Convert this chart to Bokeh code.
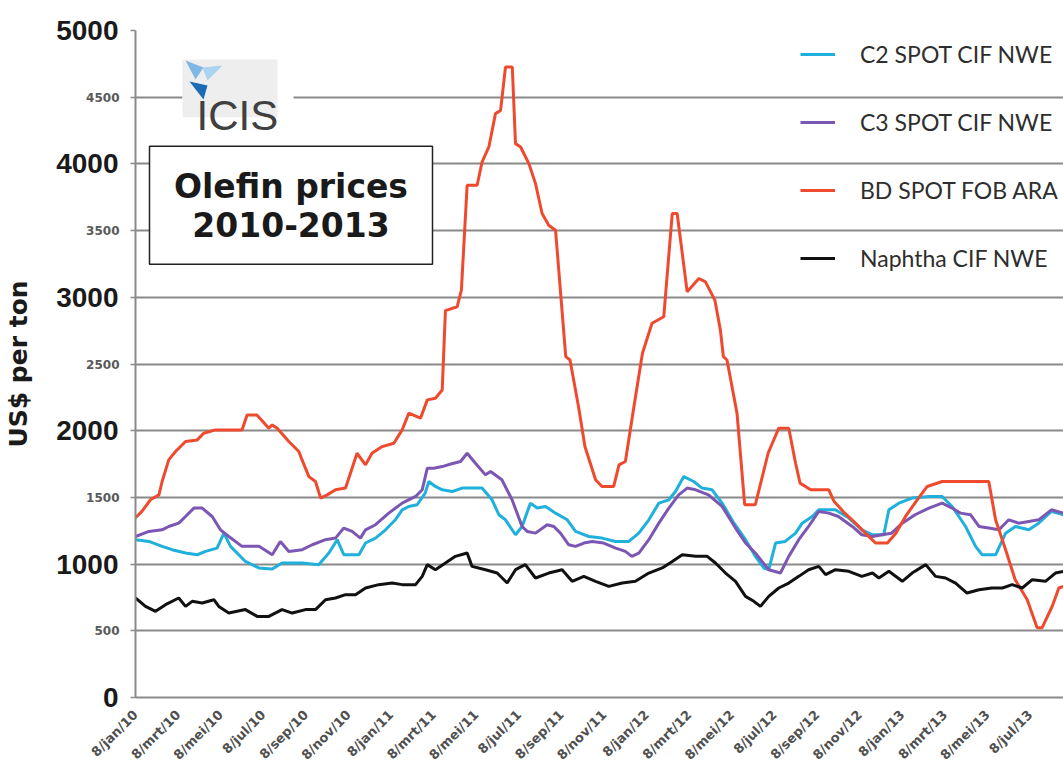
import math
from bokeh.plotting import figure
from bokeh.models import Range1d, FixedTicker, LinearAxis, Legend, LegendItem
from bokeh.core.properties import value
from bokeh.embed import file_html
from bokeh.resources import INLINE

# ---------------- data ----------------
tick_months = [0, 2, 4, 6, 8, 10, 12, 14, 16, 18, 20, 22, 24, 26, 28, 30, 32, 34, 36, 38, 40, 42]
tick_labels = ["8/jan/10", "8/mrt/10", "8/mei/10", "8/jul/10", "8/sep/10", "8/nov/10",
               "8/jan/11", "8/mrt/11", "8/mei/11", "8/jul/11", "8/sep/11", "8/nov/11",
               "8/jan/12", "8/mrt/12", "8/mei/12", "8/jul/12", "8/sep/12", "8/nov/12",
               "8/jan/13", "8/mrt/13", "8/mei/13", "8/jul/13"]
y_major_ticks = [0, 1000, 2000, 3000, 4000, 5000]
y_minor_ticks = [500, 1500, 2500, 3500, 4500]
series_names = ["C2 SPOT CIF NWE", "C3 SPOT CIF NWE", "BD SPOT FOB ARA", "Naphtha CIF NWE"]

c2_month = [0, 0.63, 1.25, 1.72, 2.35, 2.9, 3.29, 3.83, 4.15, 4.46, 5.16, 5.79, 6.42, 6.88, 7.83, 8.6,
            9.08, 9.47, 9.78, 10.49, 10.8, 11.27, 11.74, 12.2, 12.52, 12.83, 13.22, 13.6, 13.77, 14.08,
            14.4, 14.87, 15.34, 16.27, 16.74, 17.06, 17.37, 17.84, 18.15, 18.54, 18.86, 19.25, 19.72,
            20.27, 20.66, 21.28, 21.9, 22.54, 23.16, 23.63, 24.1, 24.57, 25.04, 25.35, 25.74, 26.21,
            26.6, 27.07, 27.54, 28.1, 28.64, 29.1, 29.5, 29.73, 30.05, 30.5, 30.99, 31.3, 31.77, 32.08,
            32.86, 33.49, 34.1, 34.6, 35.13, 35.37, 35.84, 36.46, 37.25, 37.87, 38.34, 38.97, 39.44,
            39.75, 40.38, 40.85, 41.31, 41.94, 42.4, 43.0, 43.57]
c2_price = [1183, 1170, 1133, 1108, 1083, 1070, 1095, 1120, 1232, 1133, 1020, 971, 963, 1008, 1008, 996,
            1083, 1183, 1070, 1070, 1158, 1195, 1257, 1332, 1407, 1432, 1445, 1532, 1619, 1582,
            1557, 1544, 1570, 1570, 1482, 1370, 1332, 1220, 1282, 1457, 1420, 1432, 1382,
            1332, 1245, 1207, 1195, 1170, 1170, 1232, 1332, 1457, 1482, 1544, 1656, 1619,
            1570, 1557, 1457, 1307, 1183, 1058, 971, 958, 1158, 1170, 1232, 1307, 1357, 1407,
            1407, 1345, 1257, 1220, 1220, 1407, 1457, 1495, 1507, 1507, 1432, 1282, 1133,
            1070, 1070, 1232, 1282, 1257, 1307, 1395, 1370]

c3_month = [0, 0.63, 1.25, 1.56, 2.03, 2.35, 2.74, 3.13, 3.6, 3.99, 4.38, 5.0, 5.8, 6.42, 6.8, 7.2,
            7.83, 8.3, 8.92, 9.39, 9.78, 10.17, 10.56, 10.8, 11.27, 11.89, 12.52, 13.15, 13.46, 13.7,
            14.0, 14.4, 14.8, 15.26, 15.57, 15.96, 16.43, 16.67, 17.2, 17.68, 18.15, 18.39, 18.78,
            19.33, 19.64, 19.95, 20.34, 20.66, 21.05, 21.44, 21.98, 22.54, 23.0, 23.3, 23.63, 24.1,
            24.57, 25.04, 25.5, 25.9, 26.3, 26.9, 27.54, 28.17, 28.64, 29.1, 29.73, 30.28, 30.67,
            31.14, 31.6, 32.08, 32.55, 33.0, 33.65, 34.1, 34.6, 35.05, 35.5, 36.0, 36.6, 37.25,
            37.87, 38.34, 38.73, 39.2, 39.6, 40.06, 40.53, 41.0, 41.46, 41.94, 42.4, 43.0, 43.57]
c3_price = [1207, 1245, 1257, 1282, 1307, 1357, 1420, 1420, 1357, 1257, 1207, 1133, 1133, 1070, 1170, 1095,
            1108, 1145, 1183, 1195, 1270, 1245, 1195, 1257, 1295, 1382, 1457, 1507, 1557, 1719,
            1719, 1731, 1750, 1769, 1831, 1756, 1669, 1694, 1632, 1482, 1282, 1245, 1232,
            1295, 1282, 1232, 1145, 1133, 1158, 1170, 1158, 1120, 1095, 1058, 1083, 1183,
            1307, 1420, 1519, 1570, 1557, 1519, 1432, 1270, 1158, 1083, 958, 933, 1058,
            1183, 1282, 1395, 1382, 1357, 1282, 1220, 1207, 1220, 1232, 1307, 1370, 1420,
            1457, 1420, 1382, 1370, 1282, 1270, 1257, 1332, 1307, 1320, 1332, 1407, 1382]

bd_month = [0, 0.3, 0.7, 1.1, 1.25, 1.56, 1.88, 2.35, 2.9, 3.2, 3.76, 5.0, 5.24, 5.7, 6.26, 6.42, 6.65,
            7.2, 7.67, 7.82, 8.14, 8.45, 8.69, 9.0, 9.39, 9.86, 10.17, 10.4, 10.8, 11.1, 11.58, 12.13,
            12.52, 12.83, 13.38, 13.7, 14.08, 14.4, 14.55, 15.1, 15.3, 15.57, 16.04, 16.27, 16.59,
            16.9, 17.14, 17.37, 17.69, 17.84, 18.08, 18.47, 18.78, 19.09, 19.4, 19.72, 20.2, 20.4,
            20.8, 21.1, 21.6, 21.9, 22.45, 22.7, 23.0, 23.4, 23.8, 24.25, 24.8, 25.2, 25.43, 25.9,
            26.45, 26.76, 27.2, 27.46, 27.6, 27.77, 28.24, 28.6, 29.1, 29.7, 30.2, 30.67, 30.99,
            31.2, 31.7, 32.55, 32.8, 33.3, 33.8, 34.27, 34.74, 35.3, 35.7, 36.15, 36.7, 37.17,
            37.87, 40.06, 40.38, 40.85, 41.3, 41.86, 42.33, 42.56, 43.04, 43.35, 43.57]
bd_price = [1347, 1395, 1482, 1519, 1619, 1781, 1844, 1919, 1931, 1981, 2006, 2006, 2118, 2118, 2019, 2043, 2019,
            1919, 1844, 1781, 1656, 1619, 1495, 1519, 1557, 1570, 1719, 1831, 1744, 1831, 1881, 1906,
            2006, 2131, 2094, 2231, 2243, 2305, 2900, 2929, 3054, 3840, 3840, 4014, 4127,
            4377, 4401, 4726, 4726, 4152, 4127, 4002, 3852, 3628, 3540, 3503, 2555, 2530,
            2180, 1881, 1632, 1582, 1582, 1744, 1769, 2180, 2580, 2805, 2854, 3628, 3628, 3041,
            3141, 3116, 2979, 2754, 2555, 2530, 2131, 1445, 1445, 1831, 2019, 2019, 1756,
            1607, 1557, 1557, 1469, 1382, 1307, 1232, 1158, 1158, 1232, 1357, 1482, 1582,
            1619, 1619, 1332, 1108, 883, 734, 522, 522, 684, 821, 833]

naphtha_month = [0, 0.47, 0.94, 1.41, 2.03, 2.35, 2.66, 3.13, 3.68, 3.91, 4.38, 5.16, 5.71, 6.26, 6.88,
                 7.36, 7.98, 8.45, 8.92, 9.39, 9.86, 10.33, 10.8, 11.42, 12.05, 12.52, 13.15, 13.46,
                 13.7, 14.08, 14.55, 15.02, 15.57, 15.8, 16.43, 16.98, 17.45, 17.84, 18.3, 18.78, 19.4,
                 20.03, 20.5, 21.05, 21.6, 22.22, 22.85, 23.47, 24.1, 24.73, 25.2, 25.67, 26.3, 26.84,
                 27.23, 27.7, 28.17, 28.64, 29.03, 29.34, 29.73, 30.2, 30.67, 31.14, 31.6, 32.08, 32.4,
                 32.86, 33.49, 34.1, 34.6, 34.9, 35.37, 36.0, 36.46, 37.1, 37.56, 38.03, 38.5, 39.04,
                 39.6, 40.2, 40.7, 41.16, 41.63, 42.1, 42.72, 43.19, 43.57]
naphtha_price = [746, 683, 646, 696, 746, 683, 721, 708, 733, 683, 633, 659, 608, 608, 659,
                 633, 659, 659, 733, 746, 771, 771, 821, 846, 858, 846, 846, 908,
                 996, 958, 1008, 1058, 1083, 983, 958, 933, 858, 958, 996, 896, 933,
                 958, 871, 908, 871, 833, 858, 871, 933, 971, 1020, 1070, 1058, 1058,
                 1008, 933, 871, 758, 721, 683, 758, 821, 858, 908, 958, 983, 921,
                 958, 946, 908, 933, 896, 946, 871, 933, 996, 908, 896, 858, 783,
                 808, 821, 821, 846, 821, 883, 871, 933, 946]

# ---------------- layout ----------------
W, H = 1063, 770
BL, BT, BB = 135, 30, 72
PX_PER_MONTH = 21.3
X0_PX, Y0_PX, YTOP_PX = 135, 698, 30


def X(px):
    return (px - X0_PX) / PX_PER_MONTH


def Y(py):
    return (Y0_PX - py) * 5000.0 / (Y0_PX - YTOP_PX)


p = figure(width=W, height=H, output_backend="svg", toolbar_location=None,
           x_range=Range1d(0, (W - BL) / PX_PER_MONTH), y_range=Range1d(0, 5000),
           min_border_left=BL, min_border_right=0, min_border_top=BT, min_border_bottom=BB)
p.outline_line_color = None
p.background_fill_color = "white"
p.border_fill_color = "white"

# grid
p.xgrid.visible = False
p.ygrid.ticker = FixedTicker(ticks=sorted(y_major_ticks[1:] + y_minor_ticks))
p.ygrid.grid_line_color = "#8a8a8a"
p.ygrid.grid_line_width = 2

# inner y axis: small labels at the half-thousands, ticks every 500
yin = p.yaxis[0]
yin.ticker = FixedTicker(ticks=sorted(y_major_ticks + y_minor_ticks))
yin.major_label_overrides = {t: "" for t in y_major_ticks}
yin.axis_line_color = "#8a8a8a"
yin.axis_line_width = 2
yin.major_tick_line_color = "#8a8a8a"
yin.major_tick_line_width = 1.5
yin.major_tick_out = 5
yin.major_tick_in = 0
yin.minor_tick_out = 0
yin.minor_tick_in = 0
yin.major_label_standoff = 11
yin.major_label_text_font = "DejaVu Sans"
yin.major_label_text_font_style = "bold"
yin.major_label_text_font_size = "12px"
yin.major_label_text_color = "#5a5a5a"

# outer y axis: big labels at the thousands, pulled in next to the small ones
yout = LinearAxis(ticker=FixedTicker(ticks=y_major_ticks))
yout.axis_line_color = None
yout.major_tick_out = 0
yout.major_tick_in = 0
yout.minor_tick_out = 0
yout.minor_tick_in = 0
yout.major_label_standoff = -35
yout.major_label_text_font = "Liberation Sans"
yout.major_label_text_font_style = "bold"
yout.major_label_text_font_size = "28px"
yout.major_label_text_color = "#1a1a1a"
yout.axis_label = "US$ per ton"
yout.axis_label_text_font = "DejaVu Sans"
yout.axis_label_text_font_style = "bold"
yout.axis_label_text_font_size = "25px"
yout.axis_label_text_color = "#1a1a1a"
yout.axis_label_standoff = 20
p.add_layout(yout, "left")

# x axis
xax = p.xaxis[0]
xax.ticker = FixedTicker(ticks=tick_months)
xax.major_label_overrides = {m: lab for m, lab in zip(tick_months, tick_labels)}
xax.major_label_orientation = math.pi / 4
xax.axis_line_color = "#8a8a8a"
xax.axis_line_width = 2
xax.major_tick_out = 0
xax.major_tick_in = 0
xax.minor_tick_out = 0
xax.minor_tick_in = 0
xax.major_label_standoff = 15
xax.major_label_text_font = "DejaVu Sans"
xax.major_label_text_font_style = "bold"
xax.major_label_text_font_size = "13px"
xax.major_label_text_color = "#505050"

# series
r_c2 = p.line(c2_month, c2_price, line_color="#1fb0dc", line_width=3)
r_c3 = p.line(c3_month, c3_price, line_color="#7b57b3", line_width=3)
r_bd = p.line(bd_month, bd_price, line_color="#ef4a2e", line_width=3)
r_na = p.line(naphtha_month, naphtha_price, line_color="#111111", line_width=3)

legend = Legend(items=[LegendItem(label=n, renderers=[r]) for n, r in
                       zip(series_names, [r_c2, r_c3, r_bd, r_na])],
                location=(800 - X0_PX, Y0_PX - 273), orientation="vertical",
                spacing=40, glyph_width=35, glyph_height=26, label_height=26,
                label_standoff=25, padding=0, margin=0,
                border_line_color=None, background_fill_alpha=0,
                label_text_font="Lato", label_text_font_size="23px",
                label_text_color="#2e2e2e")
p.add_layout(legend)

# title box
p.quad(left=[X(149)], right=[X(432)], top=[Y(146)], bottom=[Y(264)],
       fill_color="white", line_color="#222222", line_width=1.5)
p.text(x=[X(290.5), X(290.5)], y=[Y(186), Y(224)], text=["Olefin prices", "2010-2013"],
       text_align="center", text_baseline="middle", text_font=value("DejaVu Sans"),
       text_font_style="bold", text_font_size="33px", text_color="#1a1a1a")

# ICIS logo
p.quad(left=[X(182)], right=[X(293)], top=[Y(55)], bottom=[Y(121)],
       fill_color="white", line_color=None)
p.quad(left=[X(182)], right=[X(277)], top=[Y(59)], bottom=[Y(117)],
       fill_color="#eeeeee", line_color=None)
p.patch([X(185), X(203), X(195)], [Y(60), Y(67), Y(79)], fill_color="#7fb8e4", line_color=None)
p.patch([X(202), X(222), X(207)], [Y(67), Y(65), Y(80)], fill_color="#a9d3f1", line_color=None)
p.patch([X(189), X(207), X(203)], [Y(81), Y(85), Y(99)], fill_color="#1c6cb5", line_color=None)
p.text(x=[X(196)], y=[Y(115)], text=["ICIS"], text_align="left", text_baseline="alphabetic",
       text_font=value("Liberation Sans"), text_font_size="42px", text_color="#404040")

open("out.html", "w").write(file_html(p, INLINE))
